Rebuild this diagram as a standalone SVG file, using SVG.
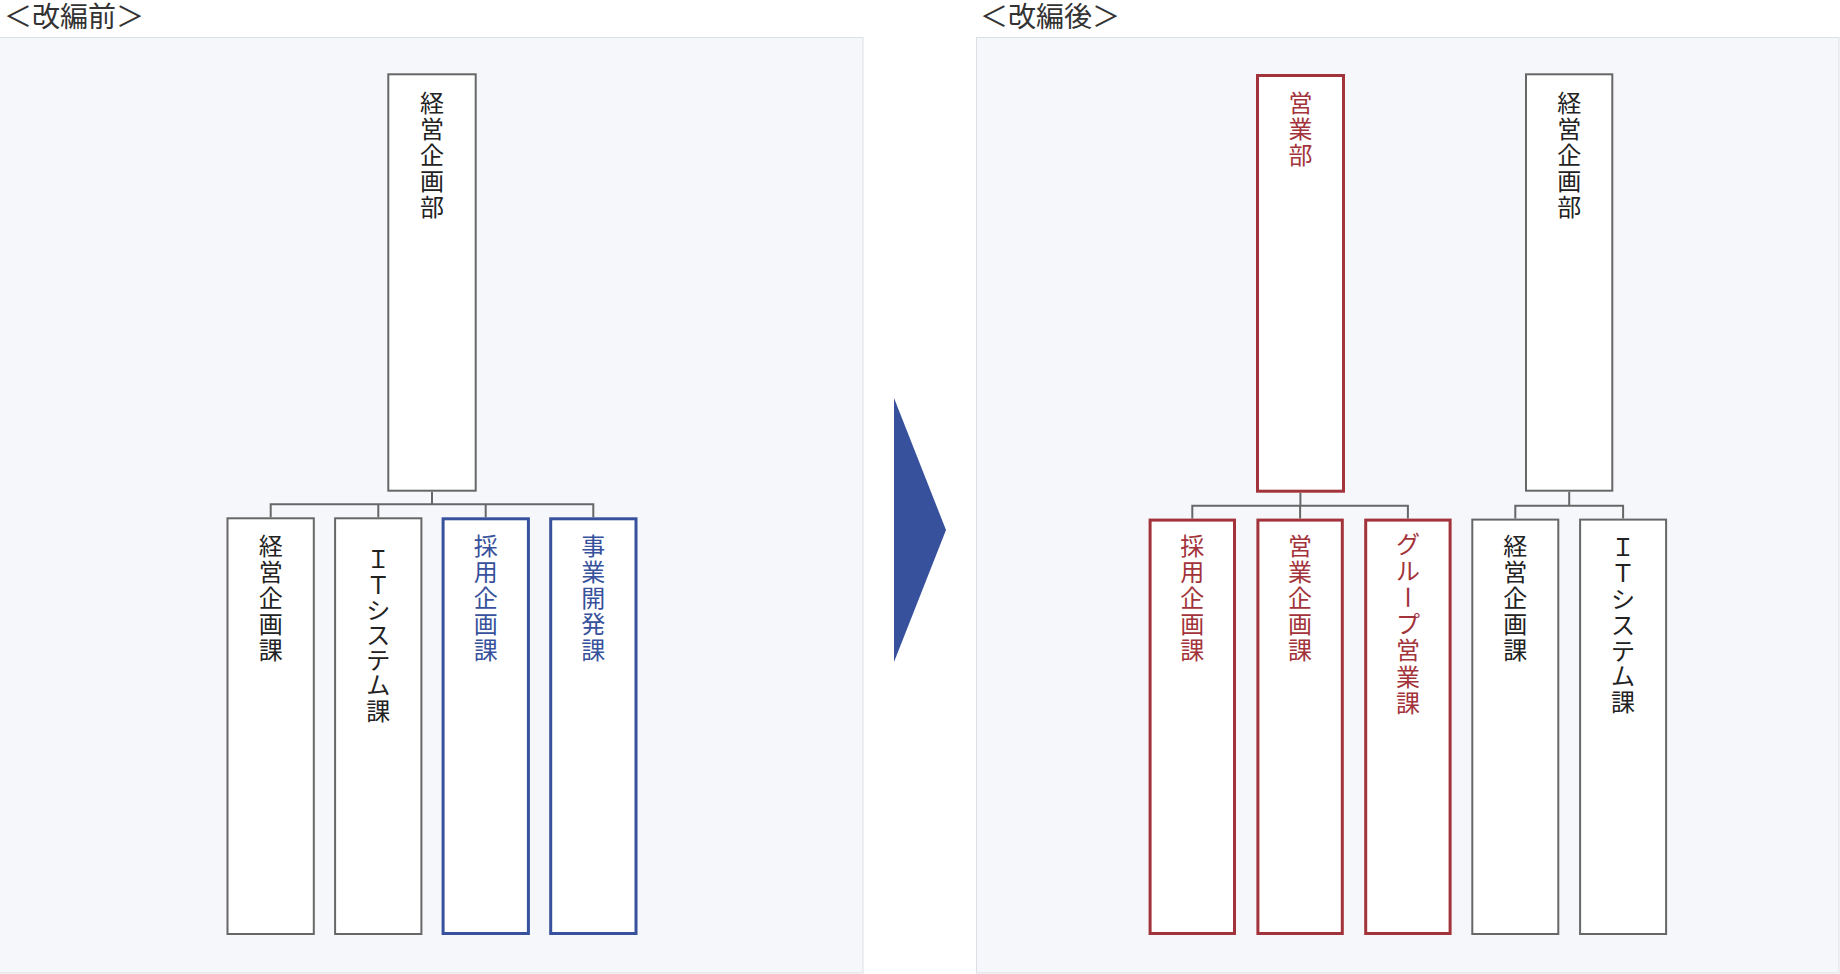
<svg xmlns="http://www.w3.org/2000/svg" width="1840" height="974" viewBox="0 0 1840 974">
<style>
.panel{fill:#f5f7fb;stroke:#dcdfe5;stroke-width:1}
.title{font-family:"Noto Sans CJK JP","Noto Sans",sans-serif;font-size:28px;fill:#333}
.lbl{font-family:"Noto Sans CJK JP","Noto Sans",sans-serif;font-size:24px;text-anchor:middle}
.g rect{fill:#fff;stroke:#676767;stroke-width:2}
.g text{fill:#222}
.b rect{fill:#fff;stroke:#37519c;stroke-width:3}
.b text{fill:#37519c}
.r rect{fill:#fff;stroke:#a3333a;stroke-width:3}
.r text{fill:#a3333a}
.conn{fill:none;stroke:#676767;stroke-width:2}
</style>
<rect class="panel" x="-1" y="37.5" width="864" height="935.5"/>
<rect class="panel" x="976.5" y="37.5" width="862.5" height="935.5"/>
<text class="title" x="4" y="27">＜改編前＞</text>
<text class="title" x="980" y="27">＜改編後＞</text>
<polygon points="894,398 946,530 894,662" fill="#37519c"/>
<g id="connectors">
<path class="conn" d="M432,491.7V504.3M270.7,517.3V504.3H593.3V517.3M378.3,504.3V517.3M485.7,504.3V517.3"/>
<path class="conn" d="M1300.4,492.7V505.8M1192.3,518.6V505.8H1407.9V518.6M1300.1,505.8V518.6"/>
<path class="conn" d="M1569.2,491.7V505.8M1515.3,518.6V505.8H1623.1V518.6"/>
</g>
<g id="before-keiei-bu" class="g">
<rect x="388.3" y="74.3" width="87.4" height="416.4"/>
<text class="lbl"><tspan x="432" y="111.5">経</tspan><tspan x="432" y="137.5">営</tspan><tspan x="432" y="163.5">企</tspan><tspan x="432" y="189.5">画</tspan><tspan x="432" y="215.5">部</tspan></text>
</g>
<g id="before-keiei-ka" class="g">
<rect x="227.5" y="518.3" width="86.3" height="415.7"/>
<text class="lbl"><tspan x="270.7" y="554.7">経</tspan><tspan x="270.7" y="580.7">営</tspan><tspan x="270.7" y="606.7">企</tspan><tspan x="270.7" y="632.7">画</tspan><tspan x="270.7" y="658.7">課</tspan></text>
</g>
<g id="before-it-ka" class="g">
<rect x="335.1" y="518.3" width="86.3" height="415.7"/>
<text class="lbl"><tspan x="378.3" y="568.3">Ｉ</tspan><tspan x="378.3" y="593.5">Ｔ</tspan><tspan x="378.3" y="618.7">シ</tspan><tspan x="378.3" y="643.9">ス</tspan><tspan x="378.3" y="669.1">テ</tspan><tspan x="378.3" y="694.3">ム</tspan><tspan x="378.3" y="719.5">課</tspan></text>
</g>
<g id="before-saiyo-ka" class="b">
<rect x="443.1" y="518.8" width="85.3" height="414.7"/>
<text class="lbl"><tspan x="485.7" y="554.7">採</tspan><tspan x="485.7" y="580.7">用</tspan><tspan x="485.7" y="606.7">企</tspan><tspan x="485.7" y="632.7">画</tspan><tspan x="485.7" y="658.7">課</tspan></text>
</g>
<g id="before-jigyo-ka" class="b">
<rect x="550.7" y="518.8" width="85.3" height="414.7"/>
<text class="lbl"><tspan x="593.3" y="554.7">事</tspan><tspan x="593.3" y="580.7">業</tspan><tspan x="593.3" y="606.7">開</tspan><tspan x="593.3" y="632.7">発</tspan><tspan x="593.3" y="658.7">課</tspan></text>
</g>
<g id="after-eigyo-bu" class="r">
<rect x="1257.5" y="75.5" width="86" height="415.7"/>
<text class="lbl"><tspan x="1300.4" y="111.5">営</tspan><tspan x="1300.4" y="137.5">業</tspan><tspan x="1300.4" y="163.5">部</tspan></text>
</g>
<g id="after-keiei-bu" class="g">
<rect x="1526" y="74.3" width="86.3" height="416.4"/>
<text class="lbl"><tspan x="1569.2" y="111.5">経</tspan><tspan x="1569.2" y="137.5">営</tspan><tspan x="1569.2" y="163.5">企</tspan><tspan x="1569.2" y="189.5">画</tspan><tspan x="1569.2" y="215.5">部</tspan></text>
</g>
<g id="after-saiyo-ka" class="r">
<rect x="1150.1" y="520.1" width="84.4" height="413.4"/>
<text class="lbl"><tspan x="1192.3" y="554.7">採</tspan><tspan x="1192.3" y="580.7">用</tspan><tspan x="1192.3" y="606.7">企</tspan><tspan x="1192.3" y="632.7">画</tspan><tspan x="1192.3" y="658.7">課</tspan></text>
</g>
<g id="after-eigyo-kikaku-ka" class="r">
<rect x="1257.9" y="520.1" width="84.4" height="413.4"/>
<text class="lbl"><tspan x="1300.1" y="554.7">営</tspan><tspan x="1300.1" y="580.7">業</tspan><tspan x="1300.1" y="606.7">企</tspan><tspan x="1300.1" y="632.7">画</tspan><tspan x="1300.1" y="658.7">課</tspan></text>
</g>
<g id="after-group-eigyo-ka" class="r">
<rect x="1365.7" y="520.1" width="84.4" height="413.4"/>
<text class="lbl"><tspan x="1407.9" y="553.2">グ</tspan><tspan x="1407.9" y="579.7">ル</tspan></text>
<text class="lbl" x="1407.9" y="606.2" transform="rotate(90 1407.9 597.3)">ー</text>
<text class="lbl"><tspan x="1407.9" y="632.7">プ</tspan><tspan x="1407.9" y="659.2">営</tspan><tspan x="1407.9" y="685.7">業</tspan><tspan x="1407.9" y="712.2">課</tspan></text>
</g>
<g id="after-keiei-ka" class="g">
<rect x="1472.3" y="519.6" width="86" height="414.4"/>
<text class="lbl"><tspan x="1515.3" y="554.7">経</tspan><tspan x="1515.3" y="580.7">営</tspan><tspan x="1515.3" y="606.7">企</tspan><tspan x="1515.3" y="632.7">画</tspan><tspan x="1515.3" y="658.7">課</tspan></text>
</g>
<g id="after-it-ka" class="g">
<rect x="1580.1" y="519.6" width="86" height="414.4"/>
<text class="lbl"><tspan x="1623.1" y="556.3">Ｉ</tspan><tspan x="1623.1" y="582.1">Ｔ</tspan><tspan x="1623.1" y="607.9">シ</tspan><tspan x="1623.1" y="633.7">ス</tspan><tspan x="1623.1" y="659.5">テ</tspan><tspan x="1623.1" y="685.3">ム</tspan><tspan x="1623.1" y="711.1">課</tspan></text>
</g>
</svg>
